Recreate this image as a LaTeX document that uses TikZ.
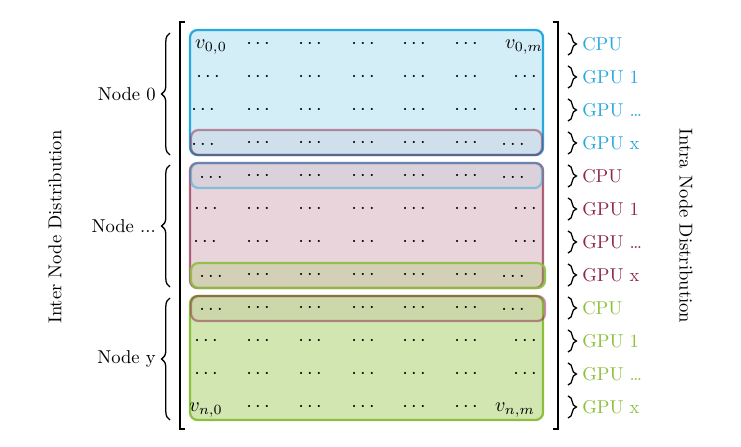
\documentclass[tikz,border=0pt]{standalone}
\usetikzlibrary{decorations.pathreplacing}
\definecolor{nodeblue}{RGB}{39,168,222}
\definecolor{nodered}{RGB}{142,40,72}
\definecolor{nodegreen}{RGB}{140,192,60}
\tikzset{
	entry/.style={inner sep=1pt, anchor=base, scale=1.08},
	block/.style={rounded corners=4pt, line width=1.2pt, draw=#1, fill=#1, fill opacity=0.2},
	halo/.style={rounded corners=4pt, line width=1.2pt, draw=#1, fill=#1, fill opacity=0.07, draw opacity=0.5},
	bracepath/.style={decorate, decoration={brace, amplitude=4.5pt}, line width=0.7pt},
	bracket/.style={line width=0.8pt}
}

\begin{document}
\begin{tikzpicture}[x=0.018893cm, y=-0.018893cm]
		\useasboundingbox (0,0) rectangle (741,446);
		\draw [block=nodeblue] (190,30) rectangle (543,155);
		\draw [block=nodered, draw opacity=0.7] (190,163) rectangle (543,288);
		\draw [block=nodegreen, fill opacity=0.4] (190,296) rectangle (543,420);
		\draw [halo=nodered] (191,130) rectangle (542,155);
		\draw [halo=nodeblue] (191,163) rectangle (542,188);
		\draw [halo=nodegreen, fill opacity=0.22, draw opacity=0.9] (191,263) rectangle (545,288);
		\draw [halo=nodered] (191,296) rectangle (545,321);
		\draw [bracket] (185,22) -- (180,22) -- (180,429) -- (185,429);
		\draw [bracket] (553,22) -- (558,22) -- (558,429) -- (553,429);
		\node [entry] (v00) at (211,48) {$v_{0,0}$};
		\node [entry] (v0m) at (524,48) {$v_{0,m}$};
		\node [entry] (vn0) at (206,411) {$v_{n,0}$};
		\node [entry] (vnm) at (515,411) {$v_{n,m}$};
		\foreach \r/\a/\b/\d/\s in {2/208/525/\cdots/48, 3/203/525/\cdots/48, 4/203/513/\ldots/46, 5/211/513/\ldots/46, 6/206/525/\cdots/48, 7/205/525/\cdots/48, 8/211/513/\ldots/46, 9/211/513/\ldots/46, 10/206/525/\cdots/48, 11/206/525/\cdots/48} {
			\node [entry] (e-\r-1) at (\a,{\s+33*(\r-1)}) {$\d$};
			\node [entry] (e-\r-7) at (\b,{\s+33*(\r-1)}) {$\d$};
		}
		\foreach \r in {1,...,12}
			\foreach \c/\x in {2/258,3/310,4/363,5/414,6/466}
				\node [entry] (e-\r-\c) at (\x,{48+33*(\r-1)}) {$\cdots$};
		\draw [bracepath] (170,155) -- (170,33) node [midway, left=4pt] (node0) {Node 0};
		\draw [bracepath] (170,287) -- (170,165) node [midway, left=4pt] (nodedots) {Node ...};
		\draw [bracepath] (170,420) -- (170,298) node [midway, left=4pt] (nodey) {Node y};
		\foreach \r/\lab/\col in {1/CPU/nodeblue, 2/GPU 1/nodeblue, 3/GPU \ldots/nodeblue, 4/GPU x/nodeblue, 5/CPU/nodered, 6/GPU 1/nodered, 7/GPU \ldots/nodered, 8/GPU x/nodered, 9/CPU/nodegreen, 10/GPU 1/nodegreen, 11/GPU \ldots/nodegreen, 12/GPU x/nodegreen}
			\draw [bracepath] (568,{33+33*(\r-1)}) -- (568,{55+33*(\r-1)}) node [midway, right=4pt, text=\col] (unit-\r) {\lab};
		\node [rotate=90] (inter) at (55,227) {Inter Node Distribution};
		\node [rotate=-90] (intra) at (686,226) {Intra Node Distribution};
	\end{tikzpicture}
\end{document}
